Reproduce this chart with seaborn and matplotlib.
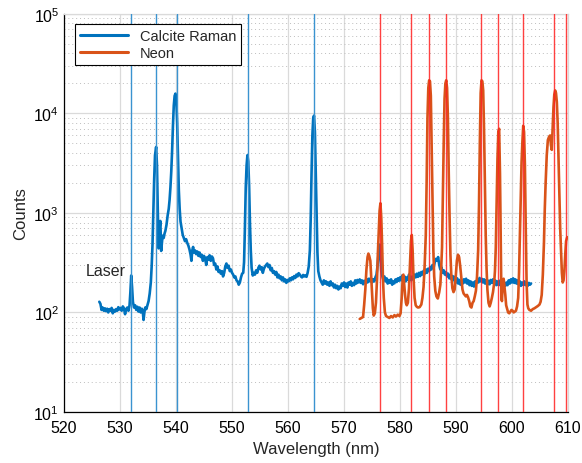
import matplotlib
matplotlib.use('Agg')
import pandas as pd
import matplotlib.pyplot as plt
import seaborn as sns
from matplotlib.ticker import LogLocator, NullFormatter

# Calcite Raman spectrum (wavelength nm, counts) ---------------------------
calcite_nm = [
    526.3, 526.5, 526.7, 526.9, 527.1, 527.3, 527.5, 527.7, 527.9, 528.1, 528.3, 528.5,
    528.7, 528.9, 529.1, 529.3, 529.5, 529.7, 529.9, 530.1, 530.3, 530.5, 530.7, 530.9,
    531.1, 531.3, 531.5, 531.7, 531.85, 532.0, 532.15, 532.3, 532.5, 532.7, 532.9, 533.1,
    533.3, 533.5, 533.7, 533.9, 534.05, 534.2, 534.35, 534.5, 534.7, 534.9, 535.1, 535.3,
    535.5, 535.65, 535.8, 535.95, 536.1, 536.25, 536.45, 536.6, 536.75, 536.9, 537.05, 537.2,
    537.35, 537.5, 537.6, 537.8, 537.95, 538.1, 538.3, 538.5, 538.7, 538.85, 539.0, 539.15,
    539.3, 539.45, 539.6, 539.75, 539.9, 540.05, 540.2, 540.35, 540.5, 540.65, 540.8, 541.0,
    541.2, 541.4, 541.6, 541.8, 542.0, 542.2, 542.4, 542.6, 542.75, 542.9, 543.05, 543.2,
    543.4, 543.6, 543.8, 544.0, 544.2, 544.4, 544.6, 544.8, 545.0, 545.2, 545.4, 545.6,
    545.8, 546.0, 546.2, 546.4, 546.6, 546.8, 547.0, 547.2, 547.4, 547.6, 547.8, 548.0,
    548.2, 548.4, 548.6, 548.8, 549.0, 549.2, 549.4, 549.6, 549.8, 550.0, 550.2, 550.4,
    550.6, 550.8, 551.0, 551.2, 551.4, 551.6, 551.8, 552.0, 552.15, 552.3, 552.45, 552.6,
    552.75, 552.9, 553.05, 553.2, 553.35, 553.5, 553.7, 553.9, 554.1, 554.3, 554.5, 554.7,
    554.9, 555.1, 555.3, 555.5, 555.7, 555.9, 556.1, 556.3, 556.5, 556.7, 556.9, 557.1,
    557.3, 557.5, 557.7, 557.9, 558.1, 558.3, 558.5, 558.7, 558.9, 559.1, 559.3, 559.5,
    559.7, 559.9, 560.1, 560.3, 560.5, 560.7, 560.9, 561.1, 561.3, 561.5, 561.7, 561.9,
    562.1, 562.3, 562.5, 562.7, 562.9, 563.1, 563.3, 563.5, 563.7, 563.9, 564.05, 564.2,
    564.35, 564.5, 564.65, 564.8, 564.95, 565.1, 565.25, 565.4, 565.6, 565.8, 566.0, 566.2,
    566.4, 566.6, 566.8, 567.0, 567.2, 567.4, 567.6, 567.8, 568.0, 568.2, 568.4, 568.6,
    568.8, 569.0, 569.2, 569.4, 569.6, 569.8, 570.0, 570.2, 570.4, 570.6, 570.8, 571.0,
    571.2, 571.4, 571.6, 571.8, 572.0, 572.2, 572.4, 572.6, 572.8, 573.0, 573.2, 573.4,
    573.6, 573.8, 574.0, 574.2, 574.4, 574.6, 574.8, 575.0, 575.2, 575.4, 575.6, 575.8,
    576.0, 576.2, 576.35, 576.5, 576.65, 576.8, 577.0, 577.2, 577.4, 577.6, 577.8, 578.0,
    578.2, 578.4, 578.6, 578.8, 579.0, 579.2, 579.4, 579.6, 579.8, 580.0, 580.2, 580.4,
    580.6, 580.8, 581.0, 581.2, 581.4, 581.6, 581.8, 582.0, 582.2, 582.4, 582.6, 582.8,
    583.0, 583.2, 583.4, 583.6, 583.8, 584.0, 584.2, 584.4, 584.6, 584.8, 585.0, 585.2,
    585.4, 585.6, 585.8, 586.0, 586.2, 586.4, 586.6, 586.8, 587.0, 587.2, 587.4, 587.6,
    587.8, 588.0, 588.2, 588.4, 588.6, 588.8, 589.0, 589.2, 589.4, 589.6, 589.8, 590.0,
    590.2, 590.4, 590.6, 590.8, 591.0, 591.2, 591.4, 591.6, 591.8, 592.0, 592.2, 592.4,
    592.6, 592.8, 593.0, 593.2, 593.4, 593.6, 593.8, 594.0, 594.2, 594.4, 594.6, 594.8,
    595.0, 595.2, 595.4, 595.6, 595.8, 596.0, 596.2, 596.4, 596.6, 596.8, 597.0, 597.2,
    597.4, 597.6, 597.8, 598.0, 598.2, 598.4, 598.6, 598.8, 599.0, 599.2, 599.4, 599.6,
    599.8, 600.0, 600.2, 600.4, 600.6, 600.8, 601.0, 601.2, 601.4, 601.6, 601.8, 602.0,
    602.2, 602.4, 602.6, 602.8, 603.0, 603.2, 603.4,
]
calcite_counts = [
    128, 122, 106, 112, 104, 110, 103, 109, 100, 108, 104, 111,
    98, 106, 102, 108, 104, 113, 107, 111, 104, 115, 110, 96,
    108, 112, 104, 118, 160, 235, 180, 128, 112, 118, 106, 114,
    102, 112, 100, 109, 104, 84, 100, 112, 108, 118, 130, 155,
    200, 290, 480, 1000, 2200, 3800, 4600, 3000, 1030, 440, 700, 830,
    415, 520, 590, 560, 620, 660, 760, 940, 1100, 1350, 1800, 2600,
    4200, 7500, 12000, 15000, 15800, 13500, 8000, 3500, 1700, 1100, 820, 700,
    600, 560, 520, 545, 500, 470, 430, 380, 330, 420, 455, 400,
    420, 385, 410, 370, 400, 360, 380, 330, 370, 345, 300, 360,
    340, 375, 330, 365, 350, 300, 310, 270, 290, 255, 265, 245,
    260, 230, 250, 290, 310, 280, 295, 260, 270, 250, 240, 225,
    230, 210, 205, 190, 200, 225, 245, 250, 320, 700, 1800, 3000,
    3800, 3300, 1900, 800, 420, 280, 235, 250, 240, 265, 250, 280,
    295, 270, 285, 250, 275, 290, 300, 310, 285, 300, 265, 280,
    250, 260, 240, 255, 225, 240, 220, 230, 210, 225, 205, 215,
    198, 212, 205, 220, 210, 225, 215, 232, 222, 240, 230, 248,
    240, 230, 225, 238, 230, 235, 228, 250, 290, 420, 870, 2500,
    6000, 9000, 9500, 6500, 2500, 900, 400, 260, 230, 210, 200, 190,
    210, 195, 205, 190, 200, 185, 205, 188, 195, 178, 190, 175,
    185, 170, 182, 175, 195, 185, 200, 180, 195, 178, 200, 190,
    205, 185, 198, 188, 210, 195, 212, 200, 215, 198, 210, 192,
    208, 196, 215, 200, 218, 205, 222, 200, 215, 205, 225, 240,
    300, 420, 480, 380, 260, 235, 215, 230, 205, 220, 195, 212,
    198, 215, 190, 205, 196, 215, 202, 220, 208, 225, 210, 235,
    215, 230, 205, 225, 212, 240, 222, 210, 230, 215, 240, 225,
    245, 228, 250, 232, 255, 240, 262, 245, 270, 250, 275, 260,
    285, 270, 300, 280, 320, 345, 330, 360, 300, 270, 285, 250,
    265, 240, 255, 230, 245, 220, 238, 215, 232, 210, 228, 200,
    220, 195, 212, 190, 208, 195, 215, 200, 218, 195, 210, 188,
    205, 185, 200, 182, 205, 195, 215, 200, 222, 205, 218, 200,
    215, 195, 210, 190, 208, 192, 212, 198, 215, 195, 210, 188,
    205, 190, 208, 185, 200, 182, 198, 185, 200, 188, 210, 195,
    215, 200, 220, 198, 215, 195, 210, 190, 205, 185, 200, 190,
    205, 188, 200, 185, 198, 190, 195,
]

# Neon calibration spectrum ------------------------------------------------
neon_nm = [
    572.8, 573.1, 573.4, 573.6, 573.8, 574.0, 574.2, 574.35, 574.5, 574.7, 574.85, 575.0,
    575.15, 575.3, 575.5, 575.7, 575.9, 576.05, 576.2, 576.35, 576.5, 576.65, 576.8, 576.95,
    577.1, 577.3, 577.5, 577.8, 578.1, 578.4, 578.7, 579.0, 579.3, 579.6, 579.9, 580.1,
    580.3, 580.5, 580.6, 580.75, 580.9, 581.05, 581.2, 581.4, 581.6, 581.8, 581.95, 582.1,
    582.25, 582.4, 582.6, 582.8, 583.0, 583.2, 583.5, 583.8, 584.0, 584.2, 584.4, 584.6,
    584.75, 584.9, 585.05, 585.2, 585.35, 585.5, 585.65, 585.8, 585.95, 586.1, 586.3, 586.5,
    586.75, 587.0, 587.2, 587.35, 587.5, 587.65, 587.8, 587.95, 588.1, 588.25, 588.4, 588.55,
    588.7, 588.85, 589.0, 589.15, 589.35, 589.55, 589.75, 589.95, 590.15, 590.35, 590.55, 590.75,
    590.95, 591.15, 591.35, 591.55, 591.75, 591.95, 592.15, 592.35, 592.55, 592.75, 592.95, 593.15,
    593.35, 593.55, 593.75, 593.95, 594.1, 594.25, 594.4, 594.55, 594.7, 594.85, 595.0, 595.15,
    595.3, 595.45, 595.6, 595.8, 596.0, 596.2, 596.4, 596.6, 596.8, 596.95, 597.1, 597.25,
    597.4, 597.55, 597.7, 597.85, 598.0, 598.1, 598.2, 598.35, 598.5, 598.65, 598.8, 598.95,
    599.1, 599.3, 599.5, 599.7, 599.9, 600.1, 600.3, 600.5, 600.7, 600.9, 601.1, 601.25,
    601.4, 601.55, 601.7, 601.85, 602.0, 602.15, 602.3, 602.45, 602.6, 602.75, 602.9, 603.1,
    603.4, 603.7, 604.0, 604.3, 604.6, 604.9, 605.1, 605.3, 605.5, 605.7, 605.85, 606.0,
    606.2, 606.4, 606.6, 606.8, 606.95, 607.1, 607.25, 607.4, 607.55, 607.7, 607.85, 608.0,
    608.15, 608.3, 608.45, 608.6, 608.75, 608.9, 609.05, 609.2, 609.35, 609.5, 609.65, 609.8,
    609.9,
]
neon_counts = [
    86, 88, 90, 120, 170, 270, 360, 390, 370, 330, 230, 160,
    110, 93, 98, 125, 220, 400, 650, 1050, 1250, 900, 480, 220,
    140, 100, 92, 90, 88, 92, 89, 94, 91, 95, 92, 98,
    140, 235, 240, 190, 150, 125, 118, 125, 175, 320, 520, 600,
    420, 230, 140, 118, 114, 112, 113, 120, 140, 180, 300, 600,
    2000, 9000, 18000, 21500, 21000, 15000, 4500, 1200, 420, 230, 165, 145,
    138, 160, 190, 280, 450, 1500, 5000, 14000, 20000, 21500, 18000, 9000,
    2500, 900, 380, 240, 175, 160, 170, 230, 330, 380, 360, 290,
    220, 170, 155, 150, 145, 150, 142, 130, 115, 112, 125, 130,
    145, 165, 230, 420, 1200, 5000, 16000, 21500, 21000, 17000, 7000, 2000,
    600, 280, 170, 125, 115, 125, 140, 160, 195, 260, 450, 1200,
    3500, 6500, 7000, 2500, 450, 140, 130, 200, 218, 180, 150, 118,
    110, 100, 98, 102, 106, 104, 100, 102, 104, 115, 140, 250,
    600, 1600, 3200, 5200, 7500, 6500, 3000, 700, 200, 120, 110, 106,
    104, 108, 110, 113, 116, 120, 128, 150, 240, 500, 1100, 2000,
    3800, 5400, 5800, 6000, 4800, 4300, 7000, 11500, 15500, 17000, 16000, 13000,
    8000, 3500, 1500, 700, 420, 250, 200, 210, 260, 380, 520, 560,
    570,
]

# Reference line positions (nm)
raman_lines = [532.0, 536.4, 540.1, 552.9, 564.6]
neon_lines = [576.44, 582.02, 585.25, 588.19, 594.48, 597.55, 602.0, 607.43, 609.62]

calcite = pd.DataFrame({'Wavelength': calcite_nm, 'Counts': calcite_counts})
neon = pd.DataFrame({'Wavelength': neon_nm, 'Counts': neon_counts})

sns.set_style('white')
plt.rcParams['font.family'] = ['Liberation Sans', 'DejaVu Sans']
plt.rcParams['mathtext.fontset'] = 'custom'
plt.rcParams['mathtext.rm'] = 'Liberation Sans'

fig, ax = plt.subplots(figsize=(5.82, 4.64), dpi=100)
fig.subplots_adjust(left=0.110, right=0.976, bottom=0.110, top=0.968)

blue = '#0072BD'
orange = '#D95319'

sns.lineplot(data=calcite, x='Wavelength', y='Counts', ax=ax, color=blue,
             linewidth=1.9, label='Calcite Raman', estimator=None, sort=False, zorder=3)
sns.lineplot(data=neon, x='Wavelength', y='Counts', ax=ax, color=orange,
             linewidth=1.9, label='Neon', estimator=None, sort=False, zorder=3)

for w in raman_lines:
    ax.axvline(w, color='#3A93D0', linewidth=1.0, zorder=4)
for w in neon_lines:
    ax.axvline(w, color='#FF2020', linewidth=1.0, alpha=0.85, zorder=4)

ax.set_yscale('log')
ax.set_xlim(520, 610)
ax.set_ylim(10, 1e5)
ax.set_xticks(range(520, 611, 10))
ax.yaxis.set_major_locator(LogLocator(base=10, numticks=10))
ax.yaxis.set_minor_locator(LogLocator(base=10, subs=range(2, 10), numticks=20))
ax.yaxis.set_minor_formatter(NullFormatter())

# MATLAB-ish grid
ax.grid(True, which='major', color='#DADADA', linewidth=0.9, linestyle='-', zorder=0)
ax.grid(True, which='minor', axis='y', color='#BDBDBD', linewidth=0.7, linestyle=(0, (1, 3)), zorder=0)
ax.set_axisbelow(True)

ax.tick_params(axis='both', which='both', direction='in', labelsize=11.5, colors='black')
ax.tick_params(axis='both', which='major', length=4, width=0.8)
ax.tick_params(axis='y', which='minor', length=2.5, width=0.7)
ax.tick_params(axis='x', pad=6)

for side in ['left', 'bottom']:
    ax.spines[side].set_color('black')
    ax.spines[side].set_linewidth(0.9)
for side in ['top', 'right']:
    ax.spines[side].set_color('#DADADA')
    ax.spines[side].set_linewidth(0.9)

ax.set_xlabel('Wavelength (nm)', fontsize=12)
ax.set_ylabel('Counts', fontsize=12)

ax.text(523.8, 261, 'Laser', fontsize=11.5, va='center', ha='left')

leg = ax.legend(loc='upper left', bbox_to_anchor=(0.022, 0.975), borderaxespad=0,
                fontsize=10.5, frameon=True, fancybox=False, edgecolor='black',
                framealpha=1, handlelength=3.3, borderpad=0.35, labelspacing=0.2)
leg.get_frame().set_linewidth(0.8)
for line in leg.get_lines():
    line.set_linewidth(2.2)

fig.savefig('out.png', dpi=100)
